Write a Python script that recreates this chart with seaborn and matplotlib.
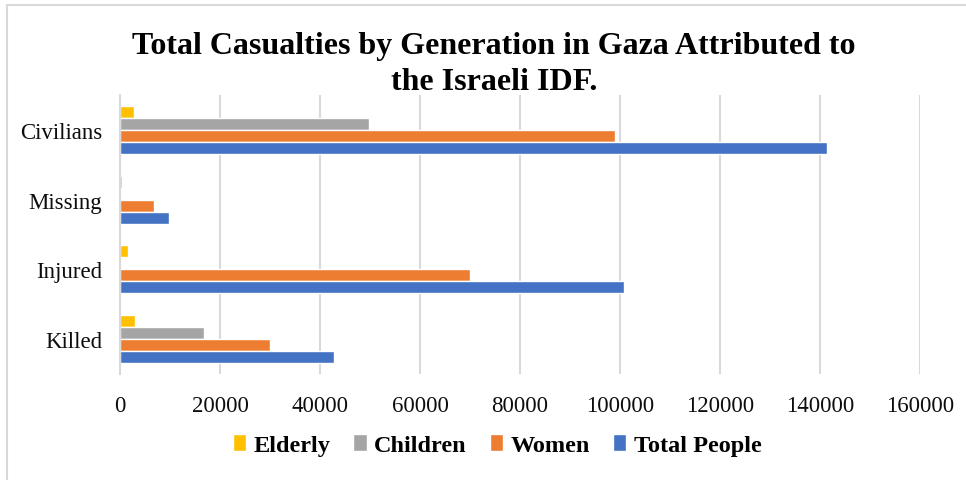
import matplotlib
matplotlib.use("Agg")
import matplotlib.pyplot as plt
import seaborn as sns
import pandas as pd
from matplotlib.patches import Rectangle

categories = ["Civilians", "Missing", "Injured", "Killed"]
series = ["Elderly", "Children", "Women", "Total People"]
elderly = [2700, 300, 1600, 2900]
children = [49800, 0, 0, 16700]
women = [99000, 6800, 70000, 30000]
total_people = [141400, 9800, 100800, 42800]
colors = ["#FFC000", "#A5A5A5", "#ED7D31", "#4472C4"]
xticks = [0, 20000, 40000, 60000, 80000, 100000, 120000, 140000, 160000]
title = "Total Casualties by Generation in Gaza Attributed to\nthe Israeli IDF."

rows = []
for s, vals in zip(series, [elderly, children, women, total_people]):
    for c, v in zip(categories, vals):
        rows.append({"Category": c, "Series": s, "Value": v})
df = pd.DataFrame(rows)

sns.set_theme(style="white")
plt.rcParams["font.family"] = ["Liberation Serif", "DejaVu Serif"]
plt.rcParams["text.color"] = "black"

fig = plt.figure(figsize=(9.66, 4.81), dpi=100)
W, H = 966, 481
ax = fig.add_axes([120 / W, 1 - 375 / H, 800 / W, 279 / H])

sns.barplot(data=df, y="Category", x="Value", hue="Series", order=categories,
            hue_order=series, palette=colors, orient="h", width=0.69,
            ax=ax, saturation=1, legend=True, errorbar=None)

ax.set_xlim(0, 160000)
ax.set_ylim(3.5, -0.5)
ax.set_xticks(xticks)
ax.set_xticklabels([str(t) for t in xticks], fontsize=16.5, color="#0d0d0d")
ax.tick_params(axis="y", labelsize=16.5, colors="#0d0d0d", length=0, pad=13)
ax.tick_params(axis="x", length=0, pad=15)
ax.set_xlabel("")
ax.set_ylabel("")
ax.grid(axis="x", color="#D9D9D9", linewidth=1.5)
ax.set_axisbelow(True)
for sp in ["top", "right", "bottom"]:
    ax.spines[sp].set_visible(False)
ax.spines["left"].set_color("#D9D9D9")
ax.spines["left"].set_linewidth(1.5)

handles, labels = ax.get_legend_handles_labels()
ax.legend_.remove()
fig.legend(handles, labels, loc="center", bbox_to_anchor=(497 / W, 1 - 446 / H),
           ncol=4, frameon=False, handlelength=0.55, handleheight=0.7,
           handletextpad=0.3, columnspacing=0.95, labelcolor="black",
           prop={"family": ["Liberation Serif"], "weight": "bold", "size": 17.5})

fig.suptitle(title, x=494 / W, y=1 - 32 / H, va="top", fontsize=23,
             fontweight="bold", linespacing=1.3, color="black")

fig.patches.append(Rectangle((7 / W, -0.1), 1.2, 1 - 6 / H + 0.1,
                             transform=fig.transFigure, fill=False,
                             edgecolor="#D9D9D9", linewidth=1.5))

fig.savefig("out.png", dpi=100)
